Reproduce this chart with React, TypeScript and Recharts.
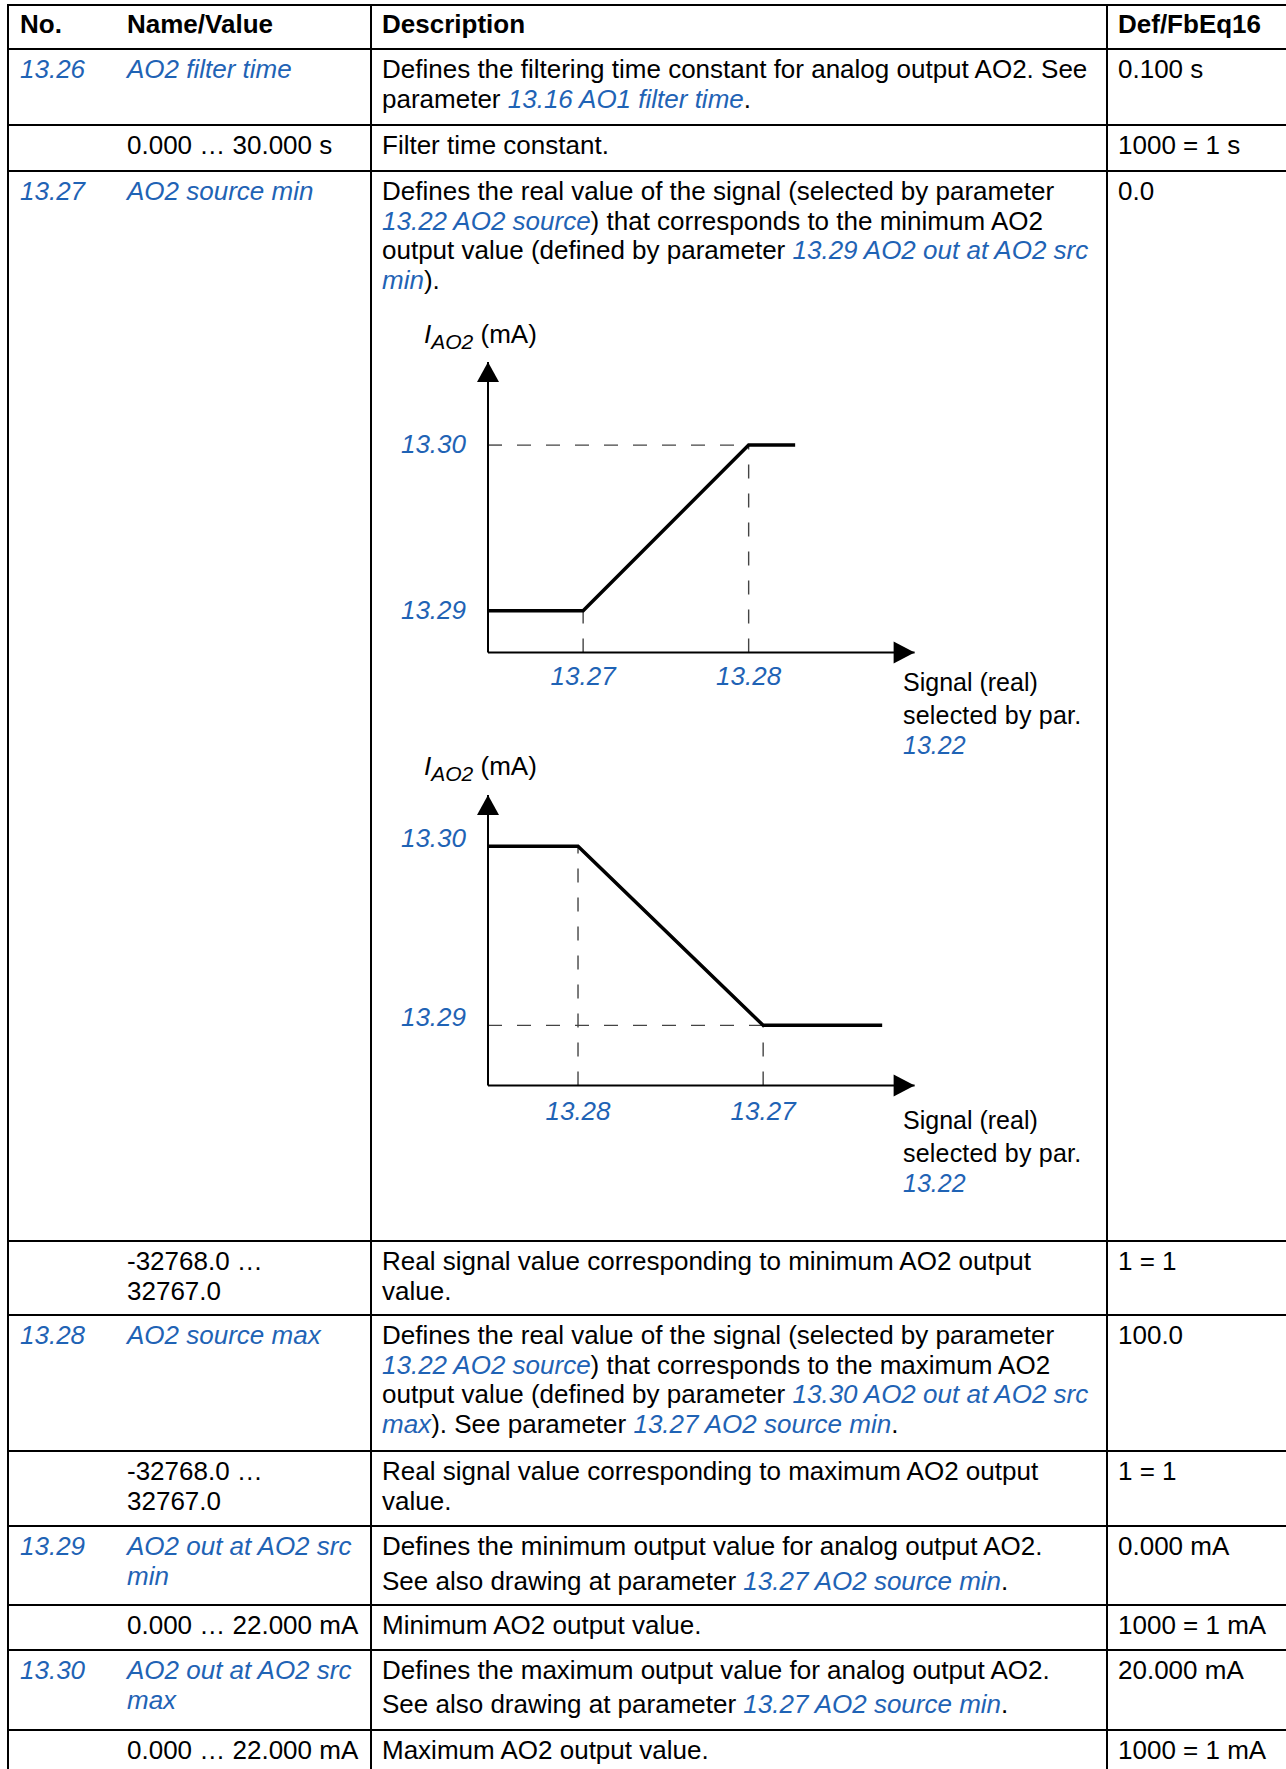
import React from 'react';
import { LineChart, Line, XAxis, YAxis, ReferenceLine, ReferenceDot } from 'recharts';

const BLUE = '#1f63b5';
const FONT = '"Liberation Sans", Arial, sans-serif';

// rising curve (13.27 source min -> 13.28 source max)
const upSignal = [0, 22.3, 61.1, 72];
const upOutput = [14.4, 14.4, 71.4, 71.4];
const upXTicks = [22.3, 61.1];
const upXLabels = ['13.27', '13.28'];
const upYTicks = [14.4, 71.4];
const upYLabels = ['13.29', '13.30'];

// falling curve (source max below source min)
const downSignal = [0, 21.1, 64.5, 92.4];
const downOutput = [82.4, 82.4, 20.7, 20.7];
const downXTicks = [21.1, 64.5];
const downXLabels = ['13.28', '13.27'];
const downYTicks = [20.7, 82.4];
const downYLabels = ['13.29', '13.30'];

const L = ({ children }: { children: React.ReactNode }) => (
  <span style={{ color: BLUE, fontStyle: 'italic' }}>{children}</span>
);

const rowEdges = [5, 49, 125, 171, 1241, 1315, 1451, 1526, 1605, 1650, 1730];

const rows: { no?: string; name: React.ReactNode; desc: React.ReactNode; def: string }[] = [
  {
    no: '13.26',
    name: <L>AO2 filter time</L>,
    desc: (
      <>
        Defines the filtering time constant for analog output AO2. See<br />
        parameter <L>13.16 AO1 filter time</L>.
      </>
    ),
    def: '0.100 s',
  },
  { name: '0.000 … 30.000 s', desc: 'Filter time constant.', def: '1000 = 1 s' },
  {
    no: '13.27',
    name: <L>AO2 source min</L>,
    desc: (
      <>
        Defines the real value of the signal (selected by parameter<br />
        <L>13.22 AO2 source</L>) that corresponds to the minimum AO2<br />
        output value (defined by parameter <L>13.29 AO2 out at AO2 src</L><br />
        <L>min</L>).
      </>
    ),
    def: '0.0',
  },
  {
    name: <>-32768.0 …<br />32767.0</>,
    desc: <>Real signal value corresponding to minimum AO2 output<br />value.</>,
    def: '1 = 1',
  },
  {
    no: '13.28',
    name: <L>AO2 source max</L>,
    desc: (
      <>
        Defines the real value of the signal (selected by parameter<br />
        <L>13.22 AO2 source</L>) that corresponds to the maximum AO2<br />
        output value (defined by parameter <L>13.30 AO2 out at AO2 src</L><br />
        <L>max</L>). See parameter <L>13.27 AO2 source min</L>.
      </>
    ),
    def: '100.0',
  },
  {
    name: <>-32768.0 …<br />32767.0</>,
    desc: <>Real signal value corresponding to maximum AO2 output<br />value.</>,
    def: '1 = 1',
  },
  {
    no: '13.29',
    name: <L>AO2 out at AO2 src<br />min</L>,
    desc: (
      <>
        <div>Defines the minimum output value for analog output AO2.</div>
        <div style={{ marginTop: 5 }}>See also drawing at parameter <L>13.27 AO2 source min</L>.</div>
      </>
    ),
    def: '0.000 mA',
  },
  { name: '0.000 … 22.000 mA', desc: 'Minimum AO2 output value.', def: '1000 = 1 mA' },
  {
    no: '13.30',
    name: <L>AO2 out at AO2 src<br />max</L>,
    desc: (
      <>
        <div>Defines the maximum output value for analog output AO2.</div>
        <div style={{ marginTop: 4 }}>See also drawing at parameter <L>13.27 AO2 source min</L>.</div>
      </>
    ),
    def: '20.000 mA',
  },
  { name: '0.000 … 22.000 mA', desc: 'Maximum AO2 output value.', def: '1000 = 1 mA' },
];

const cellText: React.CSSProperties = {
  position: 'absolute',
  fontSize: 26,
  lineHeight: '29.5px',
  whiteSpace: 'nowrap',
  color: '#000',
};

function makeTick(labels: string[], values: number[], axis: 'x' | 'y', off: number) {
  return (p: any) => {
    const idx = values.indexOf(p.payload.value);
    const label = idx >= 0 ? labels[idx] : '';
    return (
      <text
        x={p.x}
        y={axis === 'x' ? p.y + 19 : p.y + 9 + off}
        textAnchor={axis === 'x' ? 'middle' : 'end'}
        fill={BLUE}
        fontStyle="italic"
        fontSize={26}
        fontFamily={FONT}
      >
        {label}
      </text>
    );
  };
}

const UpArrow = (p: any) => (
  <polygon points={`${p.cx},${p.cy} ${p.cx - 11},${p.cy + 20} ${p.cx + 11},${p.cy + 20}`} fill="#000" />
);
const RightArrow = (p: any) => (
  <polygon points={`${p.cx},${p.cy} ${p.cx - 21},${p.cy - 11} ${p.cx - 21},${p.cy + 11}`} fill="#000" />
);

type DiagramProps = {
  signal: number[];
  output: number[];
  xTicks: number[];
  xLabels: string[];
  yTicks: number[];
  yLabels: string[];
  top: number;
  marginTop: number;
  xTickMargin: number;
  yOff: number;
  hLevel: number;
  hEnd: number;
  vLines: { x: number; y: number }[];
};

function Diagram(d: DiagramProps) {
  const data = d.signal.map((s, i) => ({ s, out: d.output[i] }));
  const dash = { stroke: '#444', strokeWidth: 1.4, strokeDasharray: '14 15' };
  return (
    <div style={{ position: 'absolute', left: 370, top: d.top }}>
      <LineChart
        width={720}
        height={420}
        data={data}
        margin={{ top: d.marginTop, right: 175.4, bottom: 0, left: 0 }}
      >
        <XAxis
          dataKey="s"
          type="number"
          domain={[0, 100]}
          ticks={d.xTicks}
          tick={makeTick(d.xLabels, d.xTicks, 'x', 0)}
          tickLine={false}
          tickSize={0}
          tickMargin={d.xTickMargin}
          height={420 - d.marginTop - 290.5}
          axisLine={{ stroke: '#000', strokeWidth: 2 }}
          interval={0}
        />
        <YAxis
          type="number"
          domain={[0, 100]}
          ticks={d.yTicks}
          tick={makeTick(d.yLabels, d.yTicks, 'y', d.yOff)}
          tickLine={false}
          tickSize={0}
          tickMargin={22}
          width={118}
          axisLine={{ stroke: '#000', strokeWidth: 2 }}
          interval={0}
        />
        <ReferenceLine segment={[{ x: 0, y: d.hLevel }, { x: d.hEnd, y: d.hLevel }]} {...dash} />
        {d.vLines.map((v, i) => (
          <ReferenceLine key={i} segment={[{ x: v.x, y: 0 }, { x: v.x, y: v.y }]} {...dash} />
        ))}
        <Line
          type="linear"
          dataKey="out"
          stroke="#000"
          strokeWidth={3.5}
          dot={false}
          isAnimationActive={false}
        />
        <ReferenceDot x={0} y={100} r={0} shape={UpArrow} ifOverflow="visible" />
        <ReferenceDot x={100} y={0} r={0} shape={RightArrow} ifOverflow="visible" />
      </LineChart>
    </div>
  );
}

function AxisTitle({ top }: { top: number }) {
  return (
    <div style={{ position: 'absolute', left: 424, top, fontSize: 26, lineHeight: '30px', whiteSpace: 'nowrap' }}>
      <i>I</i>
      <sub style={{ fontSize: 21, fontStyle: 'italic', verticalAlign: '-6px' }}>AO2</sub> (mA)
    </div>
  );
}

function SignalNote({ top }: { top: number }) {
  return (
    <div style={{ position: 'absolute', left: 903, top, fontSize: 25, lineHeight: '33px', whiteSpace: 'nowrap' }}>
      <div>Signal (real)</div>
      <div style={{ letterSpacing: 0.2 }}>selected by par.</div>
      <div style={{ marginTop: -3 }}>
        <L>13.22</L>
      </div>
    </div>
  );
}

export default function App() {
  return (
    <div
      style={{
        position: 'absolute',
        left: 0,
        top: 0,
        width: 1286,
        height: 1769,
        overflow: 'hidden',
        background: '#fff',
        fontFamily: FONT,
      }}
    >
      {/* grid lines */}
      {rowEdges.map((y, i) => (
        <div key={'h' + i} style={{ position: 'absolute', left: 7, top: y - 1, width: 1300, height: 2, background: '#000' }} />
      ))}
      {[8, 371, 1107].map((x, i) => (
        <div key={'v' + i} style={{ position: 'absolute', left: x - 1, top: 4, width: 2, height: 1800, background: '#000' }} />
      ))}

      {/* header */}
      <div style={{ ...cellText, left: 20, top: 10, fontWeight: 'bold' }}>No.</div>
      <div style={{ ...cellText, left: 127, top: 10, fontWeight: 'bold' }}>Name/Value</div>
      <div style={{ ...cellText, left: 382, top: 10, fontWeight: 'bold' }}>Description</div>
      <div style={{ ...cellText, left: 1118, top: 10, fontWeight: 'bold' }}>Def/FbEq16</div>

      {rows.map((r, i) => {
        const top = rowEdges[i + 1] + 6;
        return (
          <React.Fragment key={i}>
            {r.no && (
              <div style={{ ...cellText, left: 20, top }}>
                <L>{r.no}</L>
              </div>
            )}
            <div style={{ ...cellText, left: 127, top }}>{r.name}</div>
            <div style={{ ...cellText, left: 382, top }}>{r.desc}</div>
            <div style={{ ...cellText, left: 1118, top }}>{r.def}</div>
          </React.Fragment>
        );
      })}

      <AxisTitle top={319} />
      <Diagram
        signal={upSignal}
        output={upOutput}
        xTicks={upXTicks}
        xLabels={upXLabels}
        yTicks={upYTicks}
        yLabels={upYLabels}
        top={300}
        marginTop={62}
        xTickMargin={13}
        yOff={-1}
        hLevel={71.4}
        hEnd={61.1}
        vLines={[
          { x: 22.3, y: 14.4 },
          { x: 61.1, y: 71.4 },
        ]}
      />
      <SignalNote top={666} />

      <AxisTitle top={751} />
      <Diagram
        signal={downSignal}
        output={downOutput}
        xTicks={downXTicks}
        xLabels={downXLabels}
        yTicks={downYTicks}
        yLabels={downYLabels}
        top={740}
        marginTop={55}
        xTickMargin={15}
        yOff={-8}
        hLevel={20.7}
        hEnd={64.5}
        vLines={[
          { x: 21.1, y: 82.4 },
          { x: 64.5, y: 20.7 },
        ]}
      />
      <SignalNote top={1104} />
    </div>
  );
}
